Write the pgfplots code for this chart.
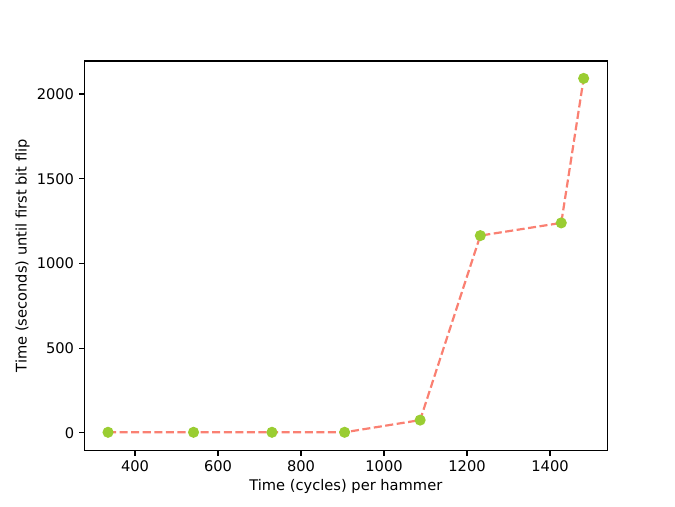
\documentclass[border=0pt]{standalone}
\usepackage{pgfplots}
\pgfplotsset{compat=1.18}
\usepackage{fontspec}
\setmainfont{DejaVu Sans}
\definecolor{salmon}{HTML}{FA8072}
\definecolor{yellowgreen}{HTML}{9ACD32}
\begin{document}
\begin{tikzpicture}
\begin{axis}[
    scale only axis,
    width=357pt, height=266pt,
    xmin=278, xmax=1538,
    ymin=-105, ymax=2195,
    xtick={400,600,800,1000,1200,1400},
    ytick={0,500,1000,1500,2000},
    tick align=outside,
    tick pos=left,
    major tick length=3.5pt,
    every tick/.style={black, line width=0.8pt},
    axis line style={line width=0.8pt},
    /pgf/number format/assume math mode=true,
    /pgf/number format/1000 sep={},
    tick label style={font=\fontsize{10}{12}\selectfont},
    label style={font=\fontsize{10}{12}\selectfont},
    xlabel={Time (cycles) per hammer},
    ylabel={Time (seconds) until first bit flip},
    xlabel style={yshift=2pt},
    ylabel style={yshift=-2pt},
]
\addplot[salmon, line width=1.5pt, dash pattern=on 5.5pt off 2.4pt,
    mark=*, mark size=3pt,
    mark options={solid, draw=yellowgreen, fill=yellowgreen}]
coordinates {(335,3) (541,3) (730,3) (905,3) (1087,75) (1232,1164) (1427,1239) (1481,2092)};
\end{axis}
\path (current axis.south west) ++(-57.6pt,-38.0pt) rectangle ++(460.8pt,345.6pt);
\end{tikzpicture}
\end{document}
